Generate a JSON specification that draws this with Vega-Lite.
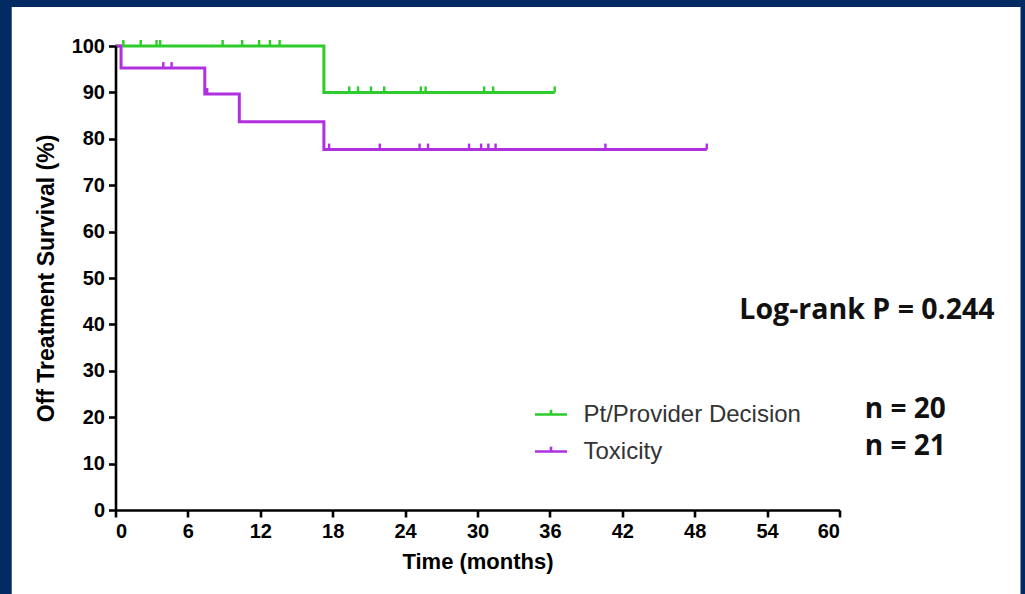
{
  "$schema": "https://vega.github.io/schema/vega-lite/v6.json",
  "autosize": "none",
  "width": 724,
  "height": 464,
  "padding": {"left": 115.5, "top": 46, "right": 185.5, "bottom": 84},
  "background": "#022a63",
  "config": {
    "view": {"stroke": null},
    "font": "Liberation Sans",
    "axis": {
      "zindex": 1,
      "domainColor": "black",
      "domainWidth": 2.6,
      "tickColor": "black",
      "tickWidth": 2.6,
      "tickSize": 7,
      "labelFont": "Liberation Sans",
      "labelFontWeight": "bold",
      "labelFontSize": 20,
      "labelColor": "black",
      "titleFont": "Liberation Sans",
      "titleFontWeight": "bold",
      "titleFontSize": 22,
      "titleColor": "black",
      "grid": false
    }
  },
  "datasets": {
    "curve": [
      {"group": "Pt/Provider Decision", "time": 0, "surv": 100},
      {"group": "Pt/Provider Decision", "time": 17.27, "surv": 90},
      {"group": "Pt/Provider Decision", "time": 36.4, "surv": 90},
      {"group": "Toxicity", "time": 0, "surv": 100},
      {"group": "Toxicity", "time": 0.46, "surv": 95.24},
      {"group": "Toxicity", "time": 7.4, "surv": 89.64},
      {"group": "Toxicity", "time": 10.26, "surv": 83.66},
      {"group": "Toxicity", "time": 17.27, "surv": 77.68},
      {"group": "Toxicity", "time": 49.0, "surv": 77.68}
    ],
    "censor": [
      {"group": "Pt/Provider Decision", "time": 0.65, "surv": 100},
      {"group": "Pt/Provider Decision", "time": 2.09, "surv": 100},
      {"group": "Pt/Provider Decision", "time": 3.4, "surv": 100},
      {"group": "Pt/Provider Decision", "time": 3.7, "surv": 100},
      {"group": "Pt/Provider Decision", "time": 8.88, "surv": 100},
      {"group": "Pt/Provider Decision", "time": 10.5, "surv": 100},
      {"group": "Pt/Provider Decision", "time": 11.9, "surv": 100},
      {"group": "Pt/Provider Decision", "time": 12.8, "surv": 100},
      {"group": "Pt/Provider Decision", "time": 13.6, "surv": 100},
      {"group": "Pt/Provider Decision", "time": 19.37, "surv": 90},
      {"group": "Pt/Provider Decision", "time": 20.1, "surv": 90},
      {"group": "Pt/Provider Decision", "time": 21.17, "surv": 90},
      {"group": "Pt/Provider Decision", "time": 22.27, "surv": 90},
      {"group": "Pt/Provider Decision", "time": 25.3, "surv": 90},
      {"group": "Pt/Provider Decision", "time": 25.7, "surv": 90},
      {"group": "Pt/Provider Decision", "time": 30.55, "surv": 90},
      {"group": "Pt/Provider Decision", "time": 31.3, "surv": 90},
      {"group": "Pt/Provider Decision", "time": 36.4, "surv": 90},
      {"group": "Toxicity", "time": 3.96, "surv": 95.24},
      {"group": "Toxicity", "time": 4.65, "surv": 95.24},
      {"group": "Toxicity", "time": 7.6, "surv": 89.64},
      {"group": "Toxicity", "time": 17.7, "surv": 77.68},
      {"group": "Toxicity", "time": 21.9, "surv": 77.68},
      {"group": "Toxicity", "time": 25.2, "surv": 77.68},
      {"group": "Toxicity", "time": 25.9, "surv": 77.68},
      {"group": "Toxicity", "time": 29.3, "surv": 77.68},
      {"group": "Toxicity", "time": 30.3, "surv": 77.68},
      {"group": "Toxicity", "time": 30.9, "surv": 77.68},
      {"group": "Toxicity", "time": 31.5, "surv": 77.68},
      {"group": "Toxicity", "time": 40.6, "surv": 77.68},
      {"group": "Toxicity", "time": 49.0, "surv": 77.68}
    ]
  },
  "layer": [
    {
      "data": {"values": [{}]},
      "mark": {"type": "rect", "color": "white", "clip": false},
      "encoding": {
        "x": {"datum": -8.6, "type": "quantitative",
              "scale": {"domain": [0, 60], "nice": false},
              "axis": {"zindex": 1, "values": [0, 6, 12, 18, 24, 30, 36, 42, 48, 54, 60], "title": "Time (months)", "titlePadding": 10, "labelPadding": 4}},
        "x2": {"datum": 75.0},
        "y": {"datum": 108.4, "type": "quantitative",
              "scale": {"domain": [0, 100], "nice": false},
              "axis": {"zindex": 1, "values": [0, 10, 20, 30, 40, 50, 60, 70, 80, 90, 100], "title": "Off Treatment Survival (%)", "titleFontSize": 23, "titlePadding": 13, "labelPadding": 4}},
        "y2": {"datum": -20}
      }
    },
    {
      "data": {"name": "curve"},
      "mark": {"type": "line", "interpolate": "step-after", "strokeWidth": 3, "clip": false},
      "encoding": {
        "x": {"field": "time", "type": "quantitative",
              "axis": {"zindex": 1, "values": [0, 6, 12, 18, 24, 30, 36, 42, 48, 54, 60], "title": "Time (months)", "titlePadding": 10, "labelPadding": 4}},
        "y": {"field": "surv", "type": "quantitative",
              "axis": {"zindex": 1, "values": [0, 10, 20, 30, 40, 50, 60, 70, 80, 90, 100], "title": "Off Treatment Survival (%)", "titleFontSize": 23, "titlePadding": 13, "labelPadding": 4}},
        "color": {"field": "group", "type": "nominal",
                  "scale": {"domain": ["Pt/Provider Decision", "Toxicity"], "range": ["#2ccc2c", "#b02fe0"]},
                  "legend": {
                    "title": null,
                    "orient": "none",
                    "legendX": 418,
                    "legendY": 351,
                    "symbolType": "M-1,0H1M0,0V-0.3",
                    "symbolSize": 1024,
                    "symbolStrokeWidth": 2.6,
                    "labelFont": "Liberation Sans",
                    "labelFontSize": 24,
                    "labelColor": "#333333",
                    "labelLimit": 0,
                    "labelOffset": 15,
                    "rowPadding": 7
                  }}
      }
    },
    {
      "data": {"name": "censor"},
      "mark": {"type": "point", "shape": "M0,0V-1", "size": 144, "filled": false, "strokeWidth": 2.4, "opacity": 1, "clip": false},
      "encoding": {
        "x": {"field": "time", "type": "quantitative"},
        "y": {"field": "surv", "type": "quantitative"},
        "color": {"field": "group", "type": "nominal", "legend": null}
      }
    },
    {
      "data": {"values": [{}]},
      "mark": {"type": "text", "text": "Log-rank P = 0.244", "font": "Open Sans", "fontWeight": "bold", "fontSize": 28.5, "align": "left", "baseline": "middle", "color": "#111111"},
      "encoding": {"x": {"datum": 51.7, "type": "quantitative"}, "y": {"datum": 43.1, "type": "quantitative"}}
    },
    {
      "data": {"values": [{}]},
      "mark": {"type": "text", "text": "n = 20", "font": "Open Sans", "fontWeight": "bold", "fontSize": 28, "align": "left", "baseline": "middle", "color": "#111111"},
      "encoding": {"x": {"datum": 62.1, "type": "quantitative"}, "y": {"datum": 21.6, "type": "quantitative"}}
    },
    {
      "data": {"values": [{}]},
      "mark": {"type": "text", "text": "n = 21", "font": "Open Sans", "fontWeight": "bold", "fontSize": 28, "align": "left", "baseline": "middle", "color": "#111111"},
      "encoding": {"x": {"datum": 62.1, "type": "quantitative"}, "y": {"datum": 13.6, "type": "quantitative"}}
    }
  ]
}
